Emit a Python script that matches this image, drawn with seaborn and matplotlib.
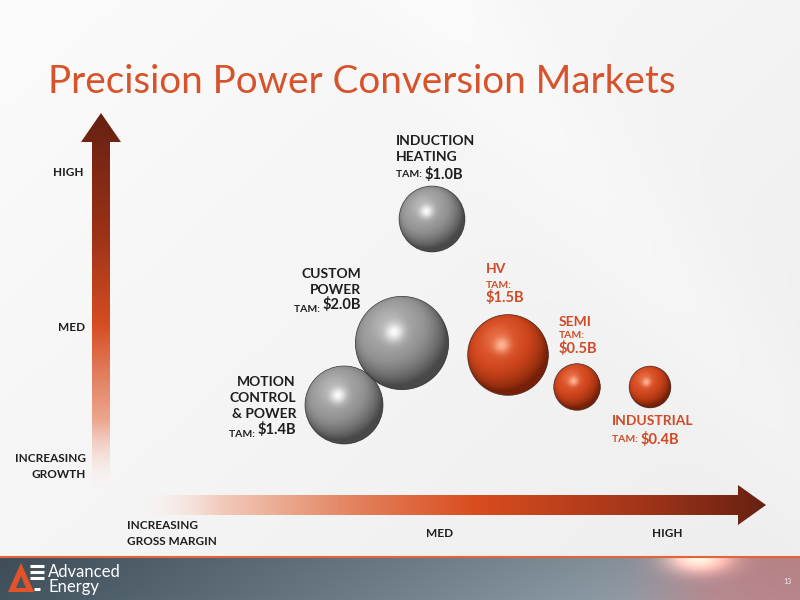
import numpy as np
import pandas as pd
import matplotlib
matplotlib.use("Agg")
import matplotlib.pyplot as plt
import seaborn as sns
from matplotlib.patches import Polygon, Circle
from matplotlib.colors import LinearSegmentedColormap, to_rgb

# ---------------- data ----------------
markets = ["INDUCTION\nHEATING", "CUSTOM\nPOWER", "MOTION\nCONTROL\n& POWER",
           "HV", "SEMI", "INDUSTRIAL"]
gross_margin = [432, 402, 344, 508, 577, 650]   # horizontal position (increasing margin)
growth = [219, 343, 405, 355, 387, 387]         # vertical position (smaller = higher growth)
tam = [1.0, 2.0, 1.4, 1.5, 0.5, 0.4]            # $B
tam_labels = ["$1.0B", "$2.0B", "$1.4B", "$1.5B", "$0.5B", "$0.4B"]
group = ["core", "core", "core", "focus", "focus", "focus"]
y_ticks = ["HIGH", "MED", "INCREASING\nGROWTH"]
x_ticks = ["INCREASING\nGROSS MARGIN", "MED", "HIGH"]
title = "Precision Power Conversion Markets"

df = pd.DataFrame(dict(market=markets, margin=gross_margin, growth=growth,
                       tam=tam, group=group))

ORANGE = "#d04a25"
DARK = "#1e1e1e"

sns.set_theme(style="white")
plt.rcParams["font.family"] = ["Lato", "DejaVu Sans"]

fig = plt.figure(figsize=(8, 6), dpi=100)
ax = fig.add_axes([0, 0, 1, 1])

# ---------------- background ----------------
H, W = 300, 400
yy, xx = np.mgrid[0:H, 0:W]
u = xx / W
v = yy / H
base = 0.985 - 0.055 * (0.55 * u + 0.45 * v)
streak = 0.015 * np.exp(-((u - v * 0.6 - 0.55) ** 2) / 0.01)
bg = np.clip(base + streak, 0, 1)
bgimg = np.dstack([bg, bg, bg])
ax.imshow(bgimg, extent=(0, 800, 600, 0), aspect="auto", zorder=0)

# footer band
fw = 400
fx = np.linspace(0, 1, fw)[None, :]
fy = np.linspace(0, 1, 44)[:, None]
c1 = np.array(to_rgb("#3e4d58"))
c2 = np.array(to_rgb("#8e9ca6"))
mixx = np.clip(fx * 1.1, 0, 1)
band = c1[None, None, :] * (1 - mixx[..., None]) + c2[None, None, :] * mixx[..., None]
band = band * (1.0 + 0.08 * fy[..., None])
warm = 1 / (1 + np.exp(-(fx - 0.84) / 0.03))
band = band * (1 - 0.55 * warm[..., None]) + 0.55 * warm[..., None] * np.array(to_rgb("#d46a6a"))[None, None, :]
flare = np.exp(-((fx - 0.875) ** 2) / 0.0015 - (fy ** 2) / 0.12)
band = band + flare[..., None] * np.array([0.6, 0.45, 0.35])[None, None, :]
band = np.clip(band, 0, 1)
ax.imshow(band, extent=(0, 800, 600, 557), aspect="auto", zorder=1)
ax.plot([0, 800], [556.5, 556.5], color="#e0653a", lw=1.5, zorder=2)

# ---------------- gradient arrows ----------------
def grad_arrow(verts, extent, stops, vertical):
    poly = Polygon(verts, closed=True, facecolor="none", edgecolor="none")
    ax.add_patch(poly)
    cmap = LinearSegmentedColormap.from_list("g", stops)
    g = np.linspace(0, 1, 256)
    arr = g[:, None] if vertical else g[None, :]
    im = ax.imshow(arr, extent=extent, cmap=cmap, aspect="auto", zorder=3,
                   interpolation="bilinear")
    im.set_clip_path(poly)

v_stops = [(0.0, (0.40, 0.13, 0.07, 1)), (0.3, (0.60, 0.19, 0.09, 1)),
           (0.55, (0.84, 0.30, 0.13, 1)), (0.8, (0.92, 0.62, 0.52, 0.9)),
           (1.0, (1, 1, 1, 0))]
grad_arrow([(92, 498), (92, 142), (81, 142), (101, 113), (121, 142), (110, 142), (110, 498)],
           (80, 122, 498, 113), v_stops, True)

h_stops = [(0.0, (1, 1, 1, 0)), (0.15, (0.95, 0.80, 0.74, 1)), (0.35, (0.89, 0.52, 0.38, 1)),
           (0.55, (0.85, 0.30, 0.12, 1)), (0.8, (0.64, 0.21, 0.10, 1)),
           (1.0, (0.40, 0.13, 0.07, 1))]
grad_arrow([(122, 495), (738, 495), (738, 485), (766, 505), (738, 525), (738, 515), (122, 515)],
           (122, 767, 525, 484), h_stops, False)

# ---------------- spheres ----------------
px_per_sqrt_tam = 66.0
pt_per_px = 72.0 / fig.dpi
df["diam_px"] = px_per_sqrt_tam * np.sqrt(df["tam"])
df["s"] = (df["diam_px"] * pt_per_px) ** 2

sns.scatterplot(data=df, x="margin", y="growth", size="s", sizes=(df["s"].min(), df["s"].max()),
                hue="group", palette={"core": "#555555", "focus": "#8a2a10"},
                linewidth=0, legend=False, ax=ax, zorder=5)

shade_maps = {
    "core": LinearSegmentedColormap.from_list("gs", [(0, "#363636"), (0.35, "#646464"),
                                                     (0.7, "#919191"), (0.9, "#a3a3a3"),
                                                     (1.0, "#b6b6b6")]),
    "focus": LinearSegmentedColormap.from_list("os", [(0, "#5e1606"), (0.35, "#9a300f"),
                                                      (0.7, "#cc441c"), (0.9, "#d9532a"),
                                                      (1.0, "#e66a40")]),
}
spec_col = {"core": np.array([1.0, 1.0, 1.0]), "focus": np.array([1.0, 0.72, 0.6])}

n = 160
gy, gx = np.mgrid[0:n, 0:n]
sx = (gx + 0.5) / n * 2 - 1
sy_up = 1 - (gy + 0.5) / n * 2
rr = sx ** 2 + sy_up ** 2
inside = rr <= 1
sz = np.sqrt(np.clip(1 - rr, 0, 1))
L = np.array([-0.32, 0.45, 0.83])
L = L / np.linalg.norm(L)
diff = np.clip(sx * L[0] + sy_up * L[1] + sz * L[2], 0, 1)
Hh = L + np.array([0, 0, 1.0])
Hh = Hh / np.linalg.norm(Hh)
spec = np.clip(sx * Hh[0] + sy_up * Hh[1] + sz * Hh[2], 0, 1) ** 50
rim = np.clip(sz, 0, 1) ** 0.25

for _, r in df.iterrows():
    R = r["diam_px"] / 2
    cx, cy = r["margin"], r["growth"]
    inten = np.clip(0.15 + 0.85 * diff, 0, 1) * (0.75 + 0.25 * rim)
    rgb = shade_maps[r["group"]](inten)[..., :3]
    rgb = rgb * (1 - spec[..., None] * 0.95) + spec_col[r["group"]] * spec[..., None] * 0.95
    rgba = np.dstack([np.clip(rgb, 0, 1), inside.astype(float)])
    im = ax.imshow(rgba, extent=(cx - R, cx + R, cy + R, cy - R), zorder=6,
                   interpolation="bilinear")
    circ = Circle((cx, cy), R, transform=ax.transData, facecolor="none", edgecolor="none")
    ax.add_patch(circ)
    im.set_clip_path(circ)
    ax.add_patch(Circle((cx, cy), R, facecolor="none", edgecolor="#2e2e2e",
                        lw=0.5, alpha=0.7, zorder=7))

ax.set_xlim(0, 800)
ax.set_ylim(600, 0)
ax.set_aspect("auto")
ax.axis("off")

# ---------------- labels ----------------
fs_name = 10
fs_tam = 7.5
fs_val = 10.5

def tam_line(x, y, val, color, ha):
    if ha == "left":
        t = ax.text(x, y, "TAM: ", fontsize=fs_tam, fontweight="bold", color=color,
                    ha="left", va="baseline", zorder=8)
        ax.annotate(val, xy=(1, 0), xycoords=t, fontsize=fs_val, fontweight="bold",
                    color=color, ha="left", va="baseline", zorder=8)
    else:
        t = ax.text(x, y, val, fontsize=fs_val, fontweight="bold", color=color,
                    ha="right", va="baseline", zorder=8)
        ax.annotate("TAM: ", xy=(0, 0), xycoords=t, fontsize=fs_tam, fontweight="bold",
                    color=color, ha="right", va="baseline", zorder=8)

def name_lines(x, ys, text, color, ha):
    for yv, line in zip(ys, text.split("\n")):
        ax.text(x, yv, line, fontsize=fs_name, fontweight="bold", color=color,
                ha=ha, va="baseline", zorder=8)

# induction heating
name_lines(396, [145, 161], markets[0], DARK, "left")
tam_line(396, 177, tam_labels[0], DARK, "left")
# custom power
name_lines(361, [278, 294], markets[1], DARK, "right")
tam_line(361, 309, tam_labels[1], DARK, "right")
# motion control
name_lines(296, [386, 402, 418], markets[2], DARK, "right")
tam_line(296, 434, tam_labels[2], DARK, "right")
# HV
name_lines(486, [273], markets[3], ORANGE, "left")
ax.text(486, 288, "TAM:", fontsize=fs_tam, fontweight="bold", color=ORANGE, ha="left", va="baseline")
ax.text(486, 302, tam_labels[3], fontsize=fs_val, fontweight="bold", color=ORANGE, ha="left", va="baseline")
# SEMI
name_lines(559, [326], markets[4], ORANGE, "left")
ax.text(559, 338, "TAM:", fontsize=fs_tam, fontweight="bold", color=ORANGE, ha="left", va="baseline")
ax.text(559, 353, tam_labels[4], fontsize=fs_val, fontweight="bold", color=ORANGE, ha="left", va="baseline")
# industrial
name_lines(612, [425], markets[5], ORANGE, "left")
tam_line(612, 442, tam_labels[5], ORANGE, "left")

# axis labels
fs_ax = 8.5
ax.text(83, 176, y_ticks[0], fontsize=fs_ax, fontweight="bold", color=DARK, ha="right", va="baseline")
ax.text(85, 331, y_ticks[1], fontsize=fs_ax, fontweight="bold", color=DARK, ha="right", va="baseline")
for yv, line in zip([462, 478], y_ticks[2].split("\n")):
    ax.text(86, yv, line, fontsize=fs_ax, fontweight="bold", color=DARK, ha="right", va="baseline")
for yv, line in zip([529, 545], x_ticks[0].split("\n")):
    ax.text(127, yv, line, fontsize=fs_ax, fontweight="bold", color=DARK, ha="left", va="baseline")
ax.text(440, 537, x_ticks[1], fontsize=fs_ax, fontweight="bold", color=DARK, ha="center", va="baseline")
ax.text(667, 537, x_ticks[2], fontsize=fs_ax, fontweight="bold", color=DARK, ha="center", va="baseline")

# title
ax.text(48, 93, title, fontsize=27.8, fontweight="normal", color="#d6532b", ha="left", va="baseline")

# footer logo
ax.add_patch(Polygon([(8, 592), (21, 563), (34, 592)], closed=True, facecolor="#e2532a",
                     edgecolor="none", zorder=9))
ax.add_patch(Polygon([(16, 588), (21, 576), (26, 588)], closed=True, facecolor="#46545f",
                     edgecolor="none", zorder=9))
for yb in [566, 572, 578]:
    ax.plot([30, 44], [yb, yb], color="white", lw=2.2, zorder=9, solid_capstyle="butt")
ax.plot([34, 40], [589, 589], color="white", lw=2.2, zorder=9, solid_capstyle="butt")
ax.text(48, 577, "Advanced", fontsize=12, color="white", ha="left", va="baseline", zorder=9)
ax.text(48, 592, "Energy", fontsize=12, color="white", ha="left", va="baseline", zorder=9)
ax.text(787, 584, "13", fontsize=5, color="#f0f0f0", ha="center", va="baseline", zorder=9)

fig.savefig("out.png", dpi=100)
